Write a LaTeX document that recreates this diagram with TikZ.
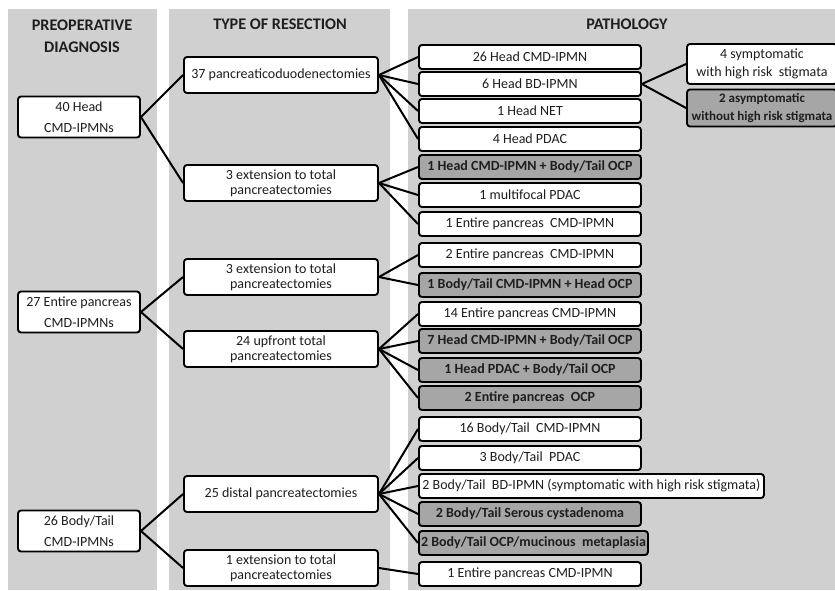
\documentclass[tikz,border=0pt]{standalone}
\usepackage{fontspec}
\setmainfont{Carlito}
\definecolor{panelgrey}{HTML}{D0D0D0}
\definecolor{boxgrey}{HTML}{A6A6A6}
\definecolor{inkgrey}{HTML}{1E1E1E}

\begin{document}
\begin{tikzpicture}
        [
            x=1pt, y=-1pt,
            font=\fontsize{14}{16}\selectfont,
            panel/.style={fill=panelgrey},
            heading/.style={font=\fontsize{16.2}{22}\selectfont\bfseries, text=inkgrey, align=center},
            box/.style={draw, line width=1.9pt, rounded corners=3pt, fill=white, text=inkgrey, align=center, inner sep=2pt},
            diagbox/.style={box, minimum width=122pt, minimum height=41pt, font=\fontsize{14}{21}\selectfont},
            resbox/.style={box, minimum width=194pt, minimum height=36pt, font=\fontsize{14}{15}\selectfont},
            pathbox/.style={box, anchor=west, minimum width=222pt, minimum height=24pt},
            subbox/.style={box, minimum width=150pt, font=\fontsize{14}{18}\selectfont},
            darkbox/.style={fill=boxgrey, font=\fontsize{14}{18}\selectfont\bfseries},
            link/.style={line width=2pt},
        ]
        \useasboundingbox (0,0) rectangle (835,590);

        % grey columns
        \fill[panel] (8,9) rectangle (157,590);
        \fill[panel] (169,9) rectangle (390,590);
        \fill[panel] (408,9) rectangle (835,590);

        \node[heading] (hdiag) at (82,36) {PREOPERATIVE\\DIAGNOSIS};
        \node[heading] (hres) at (280,24) {TYPE OF RESECTION};
        \node[heading] (hpath) at (627,24) {PATHOLOGY};

        % preoperative diagnosis
        \node[diagbox] (d1) at (79,117) {40 Head\\CMD-IPMNs};
        \node[diagbox] (d2) at (79,312) {27 Entire pancreas\\CMD-IPMNs};
        \node[diagbox] (d3) at (79,531) {26 Body/Tail\\CMD-IPMNs};

        % type of resection
        \node[resbox] (r1) at (281,75) {37 pancreaticoduodenectomies};
        \node[resbox] (r2) at (281,183) {3 extension to total\\pancreatectomies};
        \node[resbox] (r3) at (281,277) {3 extension to total\\pancreatectomies};
        \node[resbox] (r4) at (281,349) {24 upfront total\\pancreatectomies};
        \node[resbox] (r5) at (281,494) {25 distal pancreatectomies};
        \node[resbox] (r6) at (281,568) {1 extension to total\\pancreatectomies};

        % pathology
        \node[pathbox] (p1) at (418,57) {26 Head CMD-IPMN};
        \node[pathbox] (p2) at (418,84) {6 Head BD-IPMN};
        \node[pathbox] (p3) at (418,111) {1 Head NET};
        \node[pathbox] (p4) at (418,139) {4 Head PDAC};
        \node[pathbox, darkbox] (p5) at (418,167) {1 Head CMD-IPMN + Body/Tail OCP};
        \node[pathbox] (p6) at (418,195) {1 multifocal PDAC};
        \node[pathbox] (p7) at (418,224) {1 Entire pancreas\ \ CMD-IPMN};
        \node[pathbox] (p8) at (418,255) {2 Entire pancreas\ \ CMD-IPMN};
        \node[pathbox, darkbox] (p9) at (418,285) {1 Body/Tail CMD-IPMN + Head OCP};
        \node[pathbox] (p10) at (418,314) {14 Entire pancreas CMD-IPMN};
        \node[pathbox, darkbox] (p11) at (418,341) {7 Head CMD-IPMN + Body/Tail OCP};
        \node[pathbox, darkbox] (p12) at (418,370) {1 Head PDAC + Body/Tail OCP};
        \node[pathbox, darkbox] (p13) at (418,398) {2 Entire pancreas\ \ OCP};
        \node[pathbox] (p14) at (418,429) {16 Body/Tail\ \ CMD-IPMN};
        \node[pathbox] (p15) at (418,458) {3 Body/Tail\ \ PDAC};
        \node[pathbox, minimum width=345pt] (p16) at (418,486) {2 Body/Tail\ \ BD-IPMN (symptomatic with high risk stigmata)};
        \node[pathbox, darkbox] (p17) at (418,514) {2 Body/Tail Serous cystadenoma};
        \node[pathbox, darkbox, minimum width=229pt] (p18) at (418,543) {2 Body/Tail OCP/mucinous\ \ metaplasia};
        \node[pathbox] (p19) at (418,574) {1 Entire pancreas CMD-IPMN};

        \node[subbox, minimum height=40pt] (s1) at (762,64) {4 symptomatic\\with high risk\ \ stigmata};
        \node[subbox, darkbox, minimum height=37pt, font=\fontsize{13}{18}\selectfont\bfseries, inner sep=0pt] (s2) at (762,108) {2 asymptomatic\\without high risk stigmata};

        % connectors
        \draw[link] (d1.east) -- (r1.west);
        \draw[link] (d1.east) -- (r2.west);
        \draw[link] (d2.east) -- (r3.west);
        \draw[link] (d2.east) -- (r4.west);
        \draw[link] (d3.east) -- (r5.west);
        \draw[link] (d3.east) -- (r6.west);

        \draw[link] (r1.east) -- (p1.west);
        \draw[link] (r1.east) -- (p2.west);
        \draw[link] (r1.east) -- (p3.west);
        \draw[link] (r1.east) -- (p4.west);
        \draw[link] (r2.east) -- (p5.west);
        \draw[link] (r2.east) -- (p6.west);
        \draw[link] (r2.east) -- (p7.west);
        \draw[link] (r3.east) -- (p8.west);
        \draw[link] (r3.east) -- (p9.west);
        \draw[link] (r4.east) -- (p10.west);
        \draw[link] (r4.east) -- (p11.west);
        \draw[link] (r4.east) -- (p12.west);
        \draw[link] (r4.east) -- (p13.west);
        \draw[link] (r5.east) -- (p14.west);
        \draw[link] (r5.east) -- (p15.west);
        \draw[link] (r5.east) -- (p16.west);
        \draw[link] (r5.east) -- (p17.west);
        \draw[link] (r5.east) -- (p18.west);
        \draw[link] (r6.east) -- (p19.west);

        \draw[link] (p2.east) -- (s1.west);
        \draw[link] (p2.east) -- (s2.west);
\end{tikzpicture}
\end{document}
